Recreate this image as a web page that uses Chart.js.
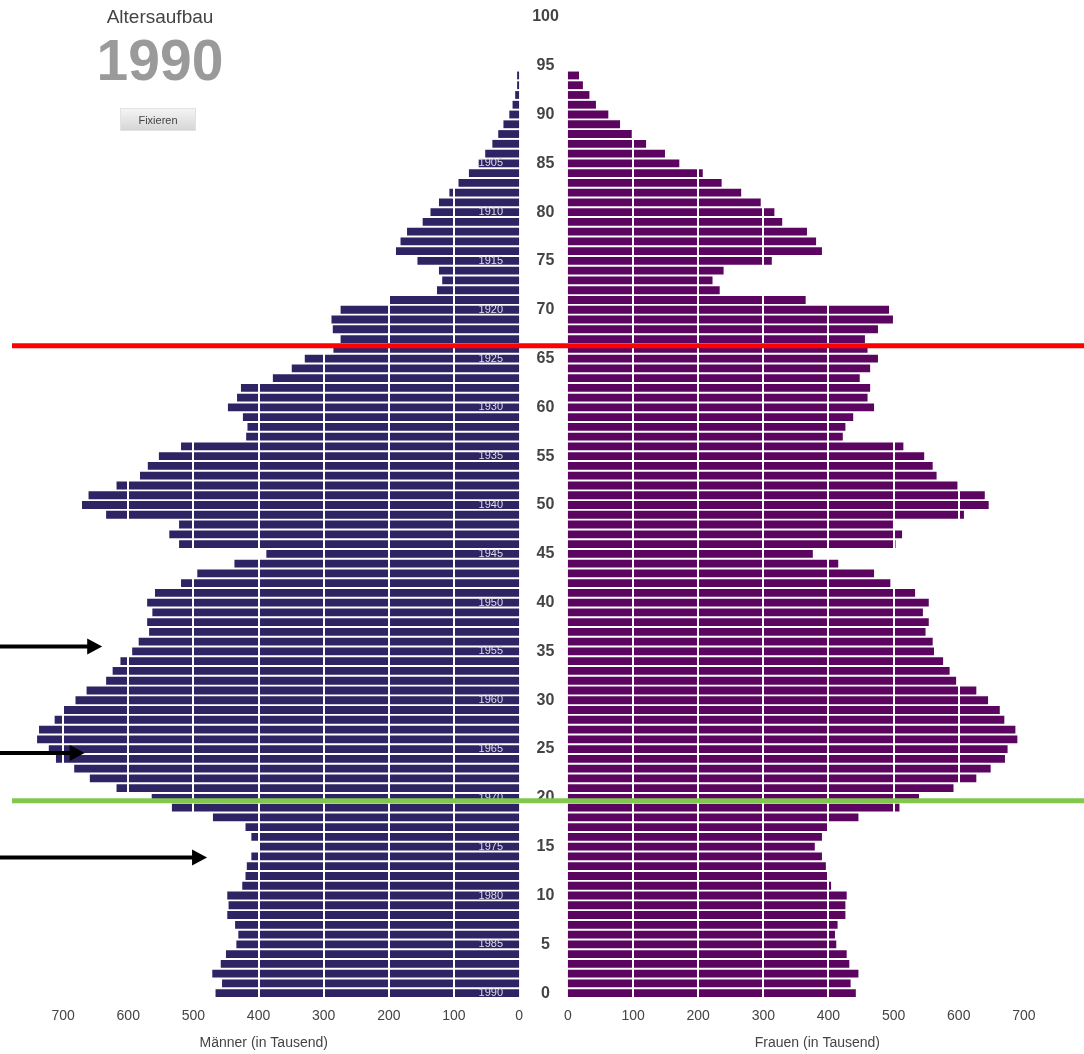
<!DOCTYPE html>
<html>
<head>
<meta charset="utf-8">
<title>Altersaufbau 1990</title>
<script src="https://cdn.jsdelivr.net/npm/chart.js@4.4.1/dist/chart.umd.min.js"></script>
<style>
    body { margin: 0; background: #fff; }
    #wrap { position: relative; width: 1084px; height: 1054px; font-family: "Liberation Sans", Arial, sans-serif; }
    #myChart { position: absolute; left: 0; top: 0; }
    .kopf { position: absolute; left: 60px; width: 200px; text-align: center; }
    #sub { top: 5px; font-size: 19px; line-height: 24px; color: #444; }
    #anio { top: 30px; font-size: 57px; line-height: 60px; font-weight: bold; color: #9a9a9a; }
    #fix { position: absolute; left: 120px; top: 108px; width: 76px; height: 23px; line-height: 23px;
           text-align: center; font-size: 11px; color: #444;
           background: linear-gradient(#f4f4f4, #d6d6d6); border: 1px solid #e2e2e2; box-sizing: border-box; }
</style>
</head>
<body>
<div id="wrap">
    <canvas id="myChart" width="1084" height="1054"></canvas>
    <div class="kopf" id="sub">Altersaufbau</div>
    <div class="kopf" id="anio">1990</div>
    <div id="fix">Fixieren</div>
</div>
<script>
// Alter 0..100 (Beschriftung in der Mitte)
const alter = []
for (let i = 0; i <= 100; i++) { alter.push(String(i)) }

// Männer in Tausend, Alter 0..95
const maenner = [466, 456, 471, 458, 450, 434, 431, 436, 448, 446,
    448, 425, 420, 418, 411, 399, 411, 420, 470, 533,
    564, 618, 659, 683, 711, 722, 740, 737, 713, 699,
    681, 664, 634, 624, 612, 594, 584, 568, 571, 563,
    571, 559, 519, 494, 437, 388, 522, 537, 522, 634,
    671, 661, 618, 582, 570, 553, 519, 419, 417, 424,
    447, 433, 427, 378, 349, 329, 285, 274, 286, 288,
    274, 199, 126, 118, 123, 156, 189, 182, 172, 148,
    136, 123, 107, 93, 77, 62, 52, 41, 32, 24,
    15, 10, 6, 3, 3, 0]

// Frauen in Tausend, Alter 0..95
const frauen = [442, 434, 446, 432, 428, 412, 410, 414, 426, 426,
    428, 404, 398, 396, 390, 379, 390, 398, 446, 509,
    539, 592, 627, 649, 671, 675, 690, 687, 670, 663,
    645, 627, 596, 586, 576, 562, 560, 549, 554, 545,
    554, 533, 495, 470, 415, 376, 503, 513, 499, 608,
    646, 640, 598, 566, 560, 547, 515, 422, 426, 438,
    470, 460, 464, 448, 464, 476, 460, 456, 476, 499,
    493, 365, 233, 222, 239, 313, 390, 381, 367, 329,
    317, 296, 266, 236, 207, 171, 149, 120, 98, 80,
    62, 43, 33, 23, 17, 0]

const tickWerte = [0, 100, 200, 300, 400, 500, 600, 700]
const jahr = 1990

// Markierungen (Alter) und Pfeile [Alter, Männer-Wert der Spitze]
const roteLinie = 66.3
const grueneLinie = 19.7
const pfeile = [[35.5, 640], [24.6, 667], [13.9, 479]]

const luecke = 37.5   // halbe Lücke in der Mitte (Werteinheiten)

const barsM = maenner.map(v => [-luecke - v, -luecke])
const barsF = frauen.map(v => [luecke, luecke + v])

const schrift = '"Liberation Sans", Arial, sans-serif'

const extras = {
    id: 'extras',
    afterDraw(chart) {
        const c = chart.ctx
        const xs = chart.scales.x
        const ys = chart.scales.y
        const mitte = xs.getPixelForValue(0)
        c.save()

        // Geburtsjahre in den Männer-Balken
        c.font = '11px ' + schrift
        c.textAlign = 'right'
        c.textBaseline = 'middle'
        c.fillStyle = '#dcdce4'
        for (let a = 0; a <= 85; a += 5) {
            c.fillText(String(jahr - a), xs.getPixelForValue(-luecke) - 16, ys.getPixelForValue(a))
        }

        // Alter in der Mitte
        c.font = 'bold 16px ' + schrift
        c.textAlign = 'center'
        c.fillStyle = '#444'
        for (let a = 0; a <= 100; a += 5) {
            c.fillText(String(a), mitte + 2, ys.getPixelForValue(a))
        }

        // Achsentitel
        c.font = '14px ' + schrift
        c.fillStyle = '#444'
        c.fillText('Männer (in Tausend)', xs.getPixelForValue(-luecke - 392), 1043)
        c.fillText('Frauen (in Tausend)', xs.getPixelForValue(luecke + 383), 1043)

        // rote und grüne Linie
        c.lineWidth = 5
        c.strokeStyle = '#ff0000'
        let y = ys.getPixelForValue(roteLinie)
        c.beginPath(); c.moveTo(12, y); c.lineTo(1084, y); c.stroke()
        c.strokeStyle = '#80c84e'
        y = ys.getPixelForValue(grueneLinie)
        c.beginPath(); c.moveTo(12, y); c.lineTo(1084, y); c.stroke()

        // Pfeile
        c.fillStyle = '#000'
        c.strokeStyle = '#000'
        c.lineWidth = 4
        pfeile.forEach(p => {
            const py = ys.getPixelForValue(p[0])
            const px = xs.getPixelForValue(-luecke - p[1])
            c.beginPath(); c.moveTo(0, py); c.lineTo(px - 12, py); c.stroke()
            c.beginPath()
            c.moveTo(px, py)
            c.lineTo(px - 15, py - 8)
            c.lineTo(px - 15, py + 8)
            c.closePath()
            c.fill()
        })
        c.restore()
    }
}

var ctx = document.getElementById('myChart');
var myChart = new Chart(ctx, {
    type: 'bar',
    data: {
        labels: alter,
        datasets: [
        {
            label: 'Männer',
            data: barsM,
            backgroundColor: '#2e2463',
            borderWidth: 0,
            grouped: false,
            barPercentage: 0.8,
            categoryPercentage: 1
        },
        {
            label: 'Frauen',
            data: barsF,
            backgroundColor: '#5c0560',
            borderWidth: 0,
            grouped: false,
            barPercentage: 0.8,
            categoryPercentage: 1
        }
    ]
    },
    options: {
        indexAxis: 'y',
        responsive: false,
        animation: false,
        devicePixelRatio: 1,
        layout: { padding: { left: 12, right: 9, top: 12, bottom: 0 } },
        plugins: {
            legend: { display: false },
            tooltip: { enabled: false }
        },
        scales: {
            y: {
                display: false,
                reverse: true
            },
            x: {
                type: 'linear',
                min: -816,
                max: 816,
                afterFit: (scale) => { scale.height = 56 },
                afterBuildTicks: (scale) => {
                    const t = []
                    tickWerte.slice().reverse().forEach(v => t.push({ value: -luecke - v }))
                    tickWerte.forEach(v => t.push({ value: luecke + v }))
                    scale.ticks = t
                },
                grid: {
                    z: 1,
                    lineWidth: 2,
                    drawTicks: false,
                    color: (c) => (c.tick && Math.abs(c.tick.value) > luecke + 1) ? '#ffffff' : 'rgba(0,0,0,0)'
                },
                border: { display: false },
                ticks: {
                    autoSkip: false,
                    maxRotation: 0,
                    padding: 10,
                    color: '#444',
                    font: { family: schrift, size: 14 },
                    callback: (v) => String(Math.round(Math.abs(v) - luecke))
                }
            }
        }
    },
    plugins: [extras]
});
</script>
</body>
</html>
